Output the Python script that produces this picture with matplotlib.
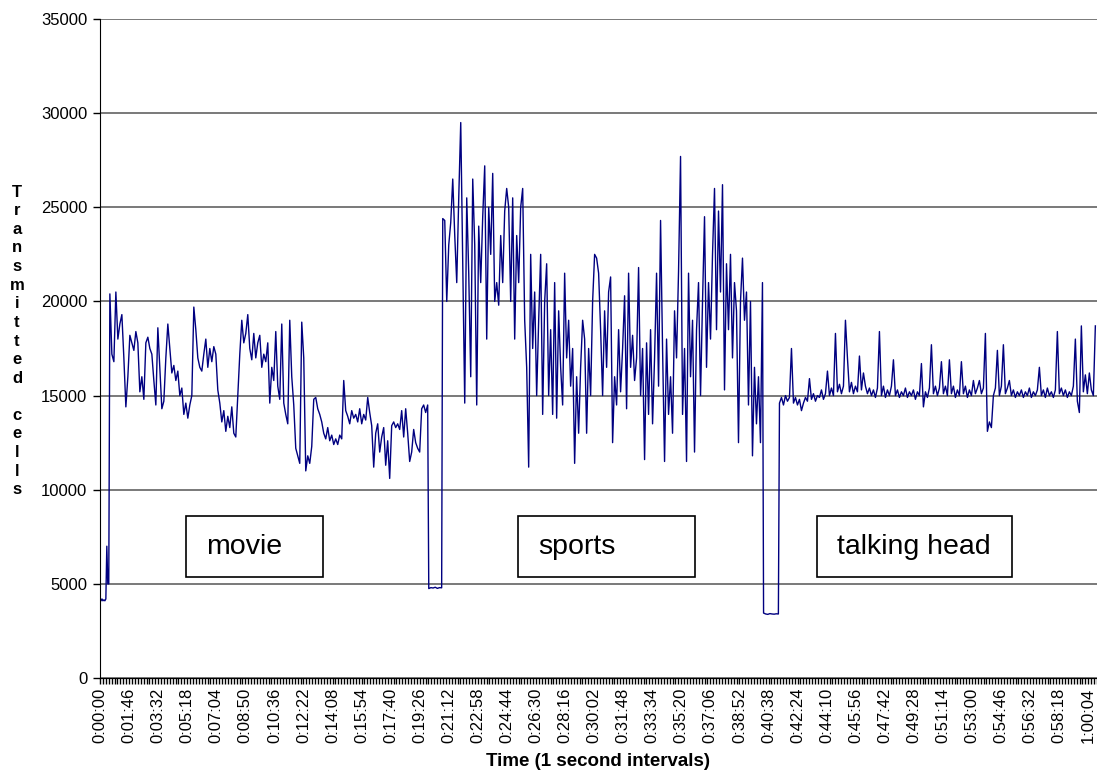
import matplotlib.pyplot as plt
from matplotlib.patches import Rectangle
from matplotlib.ticker import MultipleLocator
import numpy as np

plt.rcParams['font.family'] = ['Liberation Sans', 'DejaVu Sans']

# transmitted cells per second (in hundreds of cells)
intro = [41.5, 41, 42, 41, 41.5, 41, 42, 70, 50, 50]
movie = [204, 172, 168, 205, 180, 188, 193, 170, 144, 160, 182, 178, 174, 184, 178, 152,
         160, 148, 178, 181, 175, 172, 158, 145, 186, 165, 143, 147, 170, 188, 175, 162,
         166, 158, 163, 150, 154, 140, 146, 138, 145, 150, 197, 185, 170, 165, 163, 172,
         180, 165, 175, 168, 176, 172, 153, 146, 136, 142, 131, 139, 133, 144, 130, 128,
         150, 172, 190, 178, 183, 193, 175, 169, 183, 170, 178, 182, 165, 172, 168, 178,
         146, 165, 158, 184, 155, 148, 188, 146, 140, 135,
         190, 160, 145, 122, 118, 114, 189, 170, 110, 118, 114, 123, 148, 149, 143, 140,
         136, 130, 127, 133, 126, 129, 124, 127, 124, 129, 127, 158, 142, 139, 135, 142,
         138, 140, 136, 143, 135, 140, 137, 149, 141, 134, 112, 130, 135, 120, 128, 133,
         113, 126, 106, 134, 136, 133, 135, 132, 142, 128, 143, 130, 115, 120, 132, 125,
         122, 120, 143, 145, 141, 145]
gap1 = [47.5, 48, 47.8, 48.2, 47.6, 48, 47.9]
sports = [244, 243, 200, 230, 242, 265, 235, 210, 255, 295, 220, 146, 255, 215, 160, 265,
          230, 145, 240, 210, 245, 272, 180, 250, 225, 268, 200, 210, 198, 235, 210, 248,
          260, 250, 200, 255, 180, 235, 210, 250, 260, 190, 165, 112, 225, 175, 205, 150,
          190, 225, 140, 200, 220, 150, 185, 140, 210, 138, 195, 165, 145, 215, 170, 190,
          155, 175, 114, 160, 130, 165, 190, 180, 130, 175, 150, 200, 225, 223, 215,
          185, 150, 195, 165, 205, 213, 125, 160, 145, 185, 152, 175, 203, 143, 215, 165,
          182, 158, 170, 218, 150, 175, 116, 178, 140, 185, 135, 170, 215, 155, 243, 175,
          115, 180, 140, 160, 130, 195, 170, 216, 277, 140, 175, 115, 215, 160, 190, 120,
          185, 210, 150, 200, 245, 165, 210, 180, 225, 260, 185, 248, 205, 262, 153, 220,
          185, 225, 170, 210, 195, 125, 200, 223, 190, 205, 145, 200, 118, 165, 135, 160,
          125, 210]
gap2 = [34.5, 34, 33.8, 34.2, 34, 33.9, 34.1, 34]
talking = [146, 149, 145, 150, 147, 149, 175, 146, 149, 145,
           148, 142, 146, 149, 147, 159, 148, 151, 147, 150,
           149, 153, 148, 151, 163, 150, 154, 150, 183, 152,
           156, 151, 155, 190, 170, 152, 157, 151, 155, 152,
           171, 153, 162, 155, 151, 154, 150, 153, 149, 154,
           184, 150, 155, 149, 153, 150, 155, 169, 150, 153,
           149, 152, 150, 154, 149, 152, 150, 153, 148, 152,
           150, 167, 144, 152, 149, 154, 177, 151, 155, 150,
           154, 168, 151, 155, 150, 169, 151, 155, 149, 153,
           150, 168, 151, 155, 149, 153, 150, 158, 151, 154,
           158, 151, 154, 183, 131, 136, 133, 150, 154, 174,
           150, 155, 177, 151, 154, 158, 150, 153, 149, 152,
           150, 153, 149, 152, 150, 154, 149, 152, 150, 153,
           165, 150, 153, 149, 154, 150, 152, 149, 153, 184,
           151, 154, 150, 153, 149, 152, 150, 155, 180, 147,
           141, 187, 152, 161, 151, 162, 153, 150, 187]

# start / end time (seconds) of each part of the trace
seg_times = [(0, 32), (36, 1195), (1199, 1246), (1250, 2416), (2420, 2474), (2478, 3630)]

tick_step = 106
tick_labels = ['0:00:00', '0:01:46', '0:03:32', '0:05:18', '0:07:04', '0:08:50', '0:10:36',
               '0:12:22', '0:14:08', '0:15:54', '0:17:40', '0:19:26', '0:21:12', '0:22:58',
               '0:24:44', '0:26:30', '0:28:16', '0:30:02', '0:31:48', '0:33:34', '0:35:20',
               '0:37:06', '0:38:52', '0:40:38', '0:42:24', '0:44:10', '0:45:56', '0:47:42',
               '0:49:28', '0:51:14', '0:53:00', '0:54:46', '0:56:32', '0:58:18', '1:00:04']

segments = [intro, movie, gap1, sports, gap2, talking]
t = np.concatenate([np.linspace(a, b, len(s)) for (a, b), s in zip(seg_times, segments)])
v = np.concatenate([np.array(s, dtype=float) * 100 for s in segments])

W, H = 1097, 771
fig = plt.figure(figsize=(W / 100, H / 100), dpi=100)
ax = fig.add_axes([100 / W, 1 - 678 / H, 997 / W, 659 / H])

ax.plot(t, v, color='#000080', lw=1.0)

ax.set_xlim(0, 3636)
ax.set_ylim(0, 35000)
ax.set_yticks(range(0, 35001, 5000))
ax.yaxis.grid(True, color='#555555', lw=1.1)
ax.set_axisbelow(True)
ax.set_xticks([i * tick_step for i in range(len(tick_labels))])
ax.set_xticklabels(tick_labels, rotation=90, fontsize=12)
ax.xaxis.set_minor_locator(MultipleLocator(10.6))
ax.tick_params(axis='x', which='both', direction='out', length=4, width=1, pad=3)
ax.tick_params(axis='y', direction='out', length=5, width=1, pad=4, labelsize=12)
for s in ['top', 'right']:
    ax.spines[s].set_visible(False)

# axis titles
fig.text(598 / W, 1 - 762 / H, 'Time (1 second intervals)', ha='center', va='center',
         fontsize=13.5, fontweight='bold')
fig.text(17 / W, 1 - 341 / H, '\n'.join('Transmitted cells'), ha='center', va='center',
         fontsize=12, fontweight='bold', linespacing=1.3)

# boxed labels for each content type
boxes = [('movie', 186, 323), ('sports', 518, 695), ('talking head', 817, 1012)]
for name, x0, x1 in boxes:
    fig.patches.append(Rectangle((x0 / W, 1 - 577 / H), (x1 - x0) / W, 61 / H,
                                 transform=fig.transFigure, fill=True, facecolor='white',
                                 edgecolor='black', lw=1.2))
    fig.text((x0 + 20) / W, 1 - 547 / H, name, ha='left', va='center', fontsize=20.5)

fig.savefig('out.png', dpi=100)
